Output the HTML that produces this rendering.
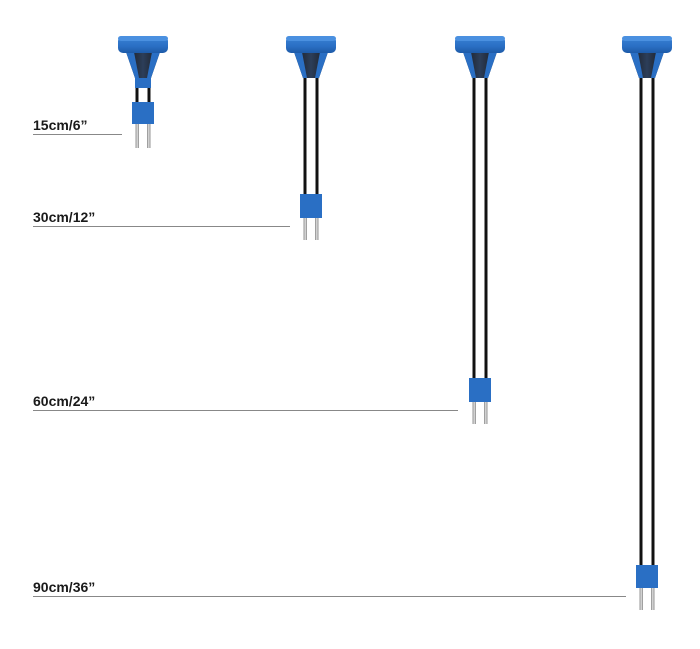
<!DOCTYPE html>
<html><head><style>
body{margin:0;background:#fff;}
svg{display:block;}
text{font-family:"Liberation Sans",sans-serif;font-weight:bold;font-size:14px;fill:#1a1a1a;}
</style></head><body>
<svg width="700" height="649" viewBox="0 0 700 649">
<defs>
<linearGradient id="cap" x1="0" y1="0" x2="0" y2="1"><stop offset="0" stop-color="#3a82d6"/><stop offset="0.6" stop-color="#2a6fc4"/><stop offset="1" stop-color="#1d5aa8"/></linearGradient>
<linearGradient id="fun" x1="0" y1="0" x2="1" y2="0"><stop offset="0" stop-color="#1a1a1a"/><stop offset="0.5" stop-color="#2c3e5a"/><stop offset="1" stop-color="#1a1a1a"/></linearGradient>
<linearGradient id="pin" x1="0" y1="0" x2="1" y2="0"><stop offset="0" stop-color="#888"/><stop offset="0.5" stop-color="#ddd"/><stop offset="1" stop-color="#888"/></linearGradient>
<g id="head">
<path d="M-17,52 L17,52 L8,78 L-8,78 Z" fill="url(#fun)"/>
<path d="M-17,52 L-9,52 L-4,78 L-8,78 Z" fill="#2a6fc4"/>
<path d="M17,52 L9,52 L4,78 L8,78 Z" fill="#2a6fc4"/>
<rect x="-25" y="36" width="50" height="17" rx="5" fill="url(#cap)"/>
<rect x="-25" y="36" width="50" height="5" rx="3" fill="#4a90e0"/>
</g>
</defs>

<g>
<text x="33" y="130">15cm/6”</text>
<text x="33" y="222">30cm/12”</text>
<text x="33" y="406">60cm/24”</text>
<text x="33" y="592">90cm/36”</text>
</g>
<g stroke="#888" stroke-width="1">
<line x1="33" y1="134.5" x2="122" y2="134.5"/>
<line x1="33" y1="226.5" x2="290" y2="226.5"/>
<line x1="33" y1="410.5" x2="458" y2="410.5"/>
<line x1="33" y1="596.5" x2="626" y2="596.5"/>
</g>

<g transform="translate(143,0)">
<rect x="-7.5" y="70" width="3" height="35" fill="#111"/><rect x="4.5" y="70" width="3" height="35" fill="#111"/>
<rect x="-8" y="78" width="16" height="10" fill="#2a6fc4"/>
<rect x="-11" y="102" width="22" height="22" fill="#2a6fc4"/>
<rect x="-7.5" y="124" width="3.5" height="24" fill="url(#pin)"/><rect x="4" y="124" width="3.5" height="24" fill="url(#pin)"/>
<use href="#head"/>
</g>
<g transform="translate(311,0)">
<rect x="-7.5" y="70" width="3" height="126" fill="#111"/><rect x="4.5" y="70" width="3" height="126" fill="#111"/>
<rect x="-11" y="194" width="22" height="24" fill="#2a6fc4"/>
<rect x="-7.5" y="218" width="3.5" height="22" fill="url(#pin)"/><rect x="4" y="218" width="3.5" height="22" fill="url(#pin)"/>
<use href="#head"/>
</g>
<g transform="translate(480,0)">
<rect x="-7.5" y="70" width="3" height="310" fill="#111"/><rect x="4.5" y="70" width="3" height="310" fill="#111"/>
<rect x="-11" y="378" width="22" height="24" fill="#2a6fc4"/>
<rect x="-7.5" y="402" width="3.5" height="22" fill="url(#pin)"/><rect x="4" y="402" width="3.5" height="22" fill="url(#pin)"/>
<use href="#head"/>
</g>
<g transform="translate(647,0)">
<rect x="-7.5" y="70" width="3" height="497" fill="#111"/><rect x="4.5" y="70" width="3" height="497" fill="#111"/>
<rect x="-11" y="565" width="22" height="23" fill="#2a6fc4"/>
<rect x="-7.5" y="588" width="3.5" height="22" fill="url(#pin)"/><rect x="4" y="588" width="3.5" height="22" fill="url(#pin)"/>
<use href="#head"/>
</g>
</svg>
</body></html>
